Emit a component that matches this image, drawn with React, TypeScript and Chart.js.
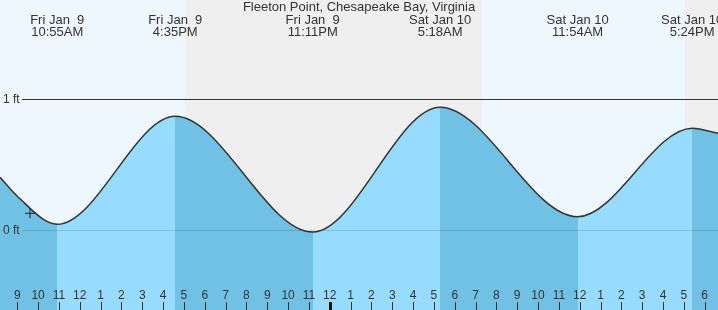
import React, { useEffect, useRef } from 'react';
import { Chart, registerables } from 'chart.js';

Chart.register(...registerables);

// Hours are counted from midnight of Fri Jan 9.
const TITLE = 'Fleeton Point, Chesapeake Bay, Virginia';
const X_MIN = 8.17;
const X_MAX = 42.64;
const Y_MIN = -0.608;
const Y_MAX = 1.758;

const tideHours = [8.17, 9.0, 10.917, 16.583, 23.183, 29.3, 35.9, 41.4, 42.64];
const tideFeet = [0.405, 0.26, 0.046, 0.87, -0.013, 0.94, 0.104, 0.78, 0.74];

const extremeHours = [10.917, 16.583, 23.183, 29.3, 35.9, 41.4];
const extremeKinds = ['low', 'high', 'low', 'high', 'low', 'high'];
const extremeDays = ['Fri Jan  9', 'Fri Jan  9', 'Fri Jan  9', 'Sat Jan 10', 'Sat Jan 10', 'Sat Jan 10'];
const extremeTimes = ['10:55AM', '4:35PM', '11:11PM', '5:18AM', '11:54AM', '5:24PM'];

const nightStarts = [17.05, 41.05];
const nightEnds = [31.31, 42.64];

const hourTicks = [9, 10, 11, 12, 13, 14, 15, 16, 17, 18, 19, 20, 21, 22, 23, 24, 25, 26, 27, 28, 29, 30, 31, 32, 33, 34, 35, 36, 37, 38, 39, 40, 41, 42];
const hourLabels = ['9', '10', '11', '12', '1', '2', '3', '4', '5', '6', '7', '8', '9', '10', '11', '12', '1', '2', '3', '4', '5', '6', '7', '8', '9', '10', '11', '12', '1', '2', '3', '4', '5', '6'];
const midnightHour = 24;

const levelFeet = [0, 1];
const levelLabels = ['0 ft', '1 ft'];

const nowHour = [9.61];
const nowFeet = [0.13];

const DAY_BG = '#eef7fe';
const NIGHT_BG = '#efefef';
const LIGHT_FILL = '#97dcfe';
const DARK_FILL = '#71c1e5';
const TEXT = '#333333';
const FONT = '12px "Liberation Sans", Arial, sans-serif';
const TITLE_FONT = '13px "Liberation Sans", Arial, sans-serif';

const tidePlugin = {
  id: 'tideDecor',
  beforeDatasetsDraw(chart: any) {
    const { ctx, chartArea, scales } = chart;
    const x = scales.x;
    ctx.save();
    ctx.fillStyle = DAY_BG;
    ctx.fillRect(0, 0, chart.width, chart.height);
    ctx.fillStyle = NIGHT_BG;
    for (let i = 0; i < nightStarts.length; i++) {
      const a = x.getPixelForValue(nightStarts[i]);
      const b = x.getPixelForValue(nightEnds[i]);
      ctx.fillRect(Math.round(a), chartArea.top, Math.round(b) - Math.round(a), chartArea.bottom - chartArea.top);
    }
    ctx.restore();
  },
  afterDatasetsDraw(chart: any) {
    const { ctx, chartArea, scales } = chart;
    const x = scales.x;
    const y = scales.y;
    ctx.save();
    // level lines
    ctx.font = FONT;
    ctx.textBaseline = 'middle';
    ctx.textAlign = 'left';
    for (let i = 0; i < levelFeet.length; i++) {
      const py = Math.round(y.getPixelForValue(levelFeet[i])) + 0.5;
      ctx.strokeStyle = levelFeet[i] === 0 ? 'rgba(0,60,100,0.18)' : '#333333';
      ctx.lineWidth = 1;
      ctx.beginPath();
      ctx.moveTo(22, py);
      ctx.lineTo(chartArea.right, py);
      ctx.stroke();
      ctx.fillStyle = TEXT;
      ctx.fillText(levelLabels[i], 3, py);
    }
    // hour ticks
    ctx.textAlign = 'center';
    ctx.textBaseline = 'middle';
    for (let i = 0; i < hourTicks.length; i++) {
      const px = x.getPixelForValue(hourTicks[i]);
      ctx.fillStyle = TEXT;
      ctx.fillText(hourLabels[i], px, 296);
      if (hourTicks[i] === midnightHour) {
        ctx.fillStyle = '#111111';
        ctx.fillRect(Math.round(px) - 1, 302, 3, 8);
      } else {
        ctx.fillStyle = TEXT;
        ctx.fillRect(Math.round(px), 302, 1, 8);
      }
    }
    // extreme labels
    ctx.fillStyle = TEXT;
    ctx.font = TITLE_FONT;
    for (let i = 0; i < extremeHours.length; i++) {
      const px = x.getPixelForValue(extremeHours[i]);
      ctx.fillText(extremeDays[i], px, 20);
      ctx.fillText(extremeTimes[i], px, 32);
    }
    ctx.fillText(TITLE, (chartArea.left + chartArea.right) / 2, 7);
    ctx.restore();
  },
};

function fillGradient(c: any) {
  const chart = c.chart;
  const area = chart.chartArea;
  if (!area) return LIGHT_FILL;
  const x = chart.scales.x;
  const w = area.right - area.left;
  const g = chart.ctx.createLinearGradient(area.left, 0, area.right, 0);
  const colorBefore = (k: string) => (k === 'low' ? DARK_FILL : LIGHT_FILL);
  const colorAfter = (k: string) => (k === 'low' ? LIGHT_FILL : DARK_FILL);
  g.addColorStop(0, colorBefore(extremeKinds[0]));
  for (let i = 0; i < extremeHours.length; i++) {
    let p = (x.getPixelForValue(extremeHours[i]) - area.left) / w;
    p = Math.max(0, Math.min(1, p));
    g.addColorStop(p, colorBefore(extremeKinds[i]));
    g.addColorStop(p, colorAfter(extremeKinds[i]));
  }
  g.addColorStop(1, colorAfter(extremeKinds[extremeKinds.length - 1]));
  return g;
}

export default function App() {
  const ref = useRef<HTMLCanvasElement | null>(null);
  useEffect(() => {
    document.body.style.margin = '0';
    if (!ref.current) return;
    const chart = new Chart(ref.current, {
      type: 'line',
      data: {
        datasets: [
          {
            type: 'scatter',
            data: nowHour.map((h, i) => ({ x: h, y: nowFeet[i] })),
            pointStyle: 'cross',
            pointRadius: 5,
            borderColor: '#222222',
            borderWidth: 1,
            showLine: false,
          } as any,
          {
            data: tideHours.map((h, i) => ({ x: h, y: tideFeet[i] })),
            borderColor: '#333333',
            borderWidth: 1.5,
            pointRadius: 0,
            cubicInterpolationMode: 'monotone',
            fill: 'start',
            backgroundColor: fillGradient,
          },
        ],
      },
      options: {
        responsive: false,
        animation: false,
        layout: { padding: 0, autoPadding: false },
        plugins: { legend: { display: false }, tooltip: { enabled: false } },
        scales: {
          x: { type: 'linear', min: X_MIN, max: X_MAX, display: false },
          y: { type: 'linear', min: Y_MIN, max: Y_MAX, display: false },
        },
      } as any,
      plugins: [tidePlugin],
    });
    return () => chart.destroy();
  }, []);
  return (
    <div style={{ width: 718, height: 310 }}>
      <canvas ref={ref} width={718} height={310} style={{ display: 'block' }} />
    </div>
  );
}
